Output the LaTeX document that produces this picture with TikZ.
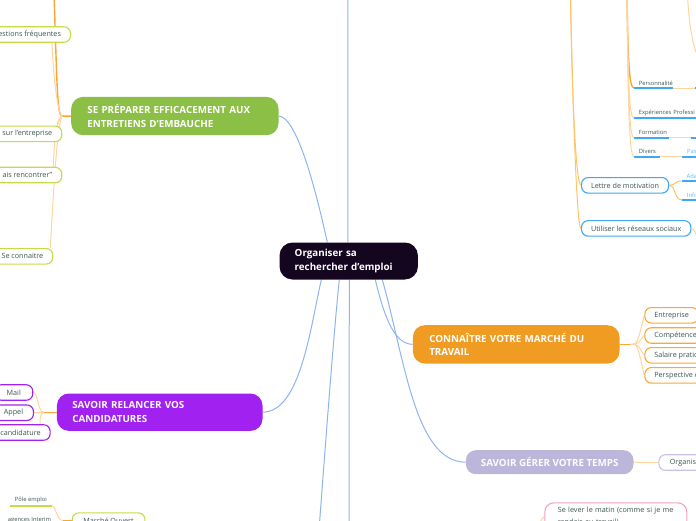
\documentclass[tikz,border=0pt]{standalone}
\usepackage{fontspec}
\setmainfont{Open Sans}
\usetikzlibrary{calc,backgrounds}
\definecolor{cdark}{HTML}{14061F}
\definecolor{cblue}{HTML}{8DB4F2}
\definecolor{cgreen}{HTML}{8CBF45}
\definecolor{cgreenb}{HTML}{C6DA4C}
\definecolor{cpurple}{HTML}{A021F0}
\definecolor{corange}{HTML}{F09C22}
\definecolor{corb}{HTML}{F8A838}
\definecolor{clav}{HTML}{BDB6DB}
\definecolor{clavb}{HTML}{C9C2E3}
\definecolor{cblueb}{HTML}{3EA9EE}
\definecolor{cpink}{HTML}{F4A3BF}
\definecolor{odark}{HTML}{FBA634}
\definecolor{omid}{HTML}{FFC36A}
\definecolor{olight}{HTML}{FFD59C}
\definecolor{ctext}{HTML}{3B5551}
\definecolor{cbtext}{HTML}{5DB6EE}
\tikzset{
  topic/.style={rounded corners=12pt, inner xsep=0pt, inner ysep=0pt,
    font=\bfseries\fontsize{9.8}{13.8}\selectfont, text=white, align=left, anchor=north west},
  kid/.style={draw, line width=1.1pt, rounded corners=6.5pt, fill=white,
    inner xsep=9.5pt, inner ysep=0pt, minimum height=15.5pt,
    font=\fontsize{7.2}{8}\selectfont, text=ctext},
  ulab/.style={inner xsep=4.7pt, inner ysep=2.5pt, anchor=south west, align=left,
    font=\fontsize{5.8}{6.5}\selectfont, text=ctext},
  bluelab/.style={ulab, text=cbtext},
  ubar/.style={line width=2pt, draw=cblueb},
  gbar/.style={line width=2.5pt, draw=cgreenb},
  bl/.style={draw=cblue, line width=1pt},
  odk/.style={draw=odark, line width=1.4pt},
  omd/.style={draw=omid, line width=1pt},
  olt/.style={draw=olight, line width=1pt},
}
\begin{document}
\begin{tikzpicture}[x=1pt,y=-1pt]
\useasboundingbox (0,0) rectangle (696,520);
\clip (0,0) rectangle (696,520);
% ---------- main topics
\node[topic, fill=cdark, rounded corners=13pt, minimum width=138.4pt, minimum height=37pt, text width=108pt] (c) at (279.3,242.3) {Organiser sa\\rechercher d'emploi};
\node[topic, fill=cgreen, minimum width=207.3pt, minimum height=38.3pt, text width=175pt] (gr) at (71,96.7) {SE PRÉPARER EFFICACEMENT AUX\\ENTRETIENS D'EMBAUCHE};
\node[topic, fill=cpurple, minimum width=205.6pt, minimum height=37.4pt, text width=174.8pt] (pu) at (56.7,393.3) {SAVOIR RELANCER VOS\\CANDIDATURES};
\node[topic, fill=corange, minimum width=206.6pt, minimum height=38.3pt, text width=173.8pt] (ot) at (412.7,325) {CONNAÎTRE VOTRE MARCHÉ DU\\TRAVAIL};
\node[topic, fill=clav, rounded corners=10pt, minimum width=167.6pt, minimum height=24pt, align=center, text=white!96!clav] (lv) at (465.7,450) {SAVOIR GÉRER VOTRE TEMPS};
% ---------- left children
\node[kid, draw=cgreenb, anchor=east] (qf) at (71,34.5) {estions fréquentes};
\node[kid, draw=cgreenb, anchor=east] (se) at (62.3,133.9) {sur l'entreprise};
\node[kid, draw=cgreenb, anchor=east] (rc) at (62.3,175) {ais rencontrer"};
\node[kid, draw=cgreenb, anchor=east] (sc) at (53.3,256.3) {Se connaitre};
\node[kid, draw=cpurple, anchor=east, minimum width=38pt] (ml) at (33.3,392.5) {Mail};
\node[kid, draw=cpurple, anchor=east, minimum width=40pt] (ap) at (34,412.7) {Appel};
\node[kid, draw=cpurple, anchor=east] (cd) at (50.7,432.5) {candidature};
\node[ulab, minimum width=38.3pt] (po) at (10,506) {Pôle emploi};
\draw[gbar] (po.south west) -- (po.south east);
\node[ulab, minimum width=48pt] (ag) at (3,526) {agences Interim};
\node[kid, draw=cgreenb, anchor=north west, minimum width=72.6pt] (mo) at (71.7,512.3) {Marché Ouvert};
% ---------- right upper items
\node[ulab, text width=29.3pt] (pe) at (634,88) {Personnalité};
\node[ulab, text width=80pt] (ex) at (634,118.3) {Expériences Professi};
\node[ulab, text width=24.9pt] (fo) at (634,137.7) {Formation};
\node[ulab, text width=15.9pt] (dv) at (634,156.7) {Divers};
\node[bluelab, text width=20pt] (pe2) at (695,88) {};
\node[bluelab, text width=20pt] (fo2) at (690.7,137.7) {};
\node[bluelab, text width=20pt] (dv2) at (682.3,156.7) {Pas};
\node[bluelab, text width=20pt] (ada) at (681.7,181) {Ada};
\node[bluelab, text width=20pt] (inf) at (682,200) {Info};
\foreach \n in {pe,ex,fo,dv,pe2,fo2,dv2,ada,inf} \draw[ubar] (\n.south west) -- (\n.south east);
\node[kid, draw=cblueb, anchor=west] (lm) at (581,185.3) {Lettre de motivation};
\node[kid, draw=cblueb, anchor=west] (us) at (581,228.4) {Utiliser les réseaux sociaux};
% ---------- right lower children
\node[kid, draw=corb, anchor=west] (en) at (644.3,315.3) {Entreprise};
\node[kid, draw=corb, anchor=west] (cp) at (644.3,335.5) {Compétences};
\node[kid, draw=corb, anchor=west] (sp) at (644.3,355.3) {Salaire pratiq};
\node[kid, draw=corb, anchor=west] (pp) at (644.3,375.3) {Perspective d};
\node[kid, draw=clavb, anchor=west, inner xsep=11pt] (og) at (658.3,462.5) {Organis};
\node[kid, draw=cpink, anchor=north west, text width=116pt, align=left, inner xsep=13pt, inner ysep=4pt, rounded corners=9pt, font=\fontsize{7.2}{12.5}\selectfont] (pk) at (544.3,502.3) {Se lever le matin (comme si je me\\rendais au travail)};
% ---------- free ends
\coordinate (ctop) at (348,-5);
\coordinate (cb1) at (319,530);
\coordinate (cb2) at (349,530);
\coordinate (gtop) at (54,-5);
\coordinate (tr1) at (570.5,-5);
\coordinate (tr2) at (627,-5);
\coordinate (tr3) at (687.5,-5);
\coordinate (tr3b) at (700,60);
\coordinate (usb) at (700,242);
\coordinate (pkb) at (537,530);
% ---------- connectors
\begin{scope}[on background layer]
\clip (0,0) rectangle (696,520);
% blue from centre
\draw[bl] ($(c.north west)+(48,0)$) .. controls (318,200) and (298,116.5) .. (gr.east);
\draw[bl] ($(c.north west)+(68.5,0)$) -- (ctop);
\draw[bl] ($(c.south west)+(42,0)$) .. controls (310,330) and (300,412) .. (pu.east);
\draw[bl] ($(c.south west)+(60,0)$) .. controls (334,330) and (325,450) .. (cb1);
\draw[bl] ($(c.south west)+(70,0)$) -- (cb2);
\draw[bl] ($(c.south west)+(96,0)$) .. controls (385,320) and (395,344) .. (ot.west);
\draw[bl] ($(c.south west)+(103,0)$) .. controls (405,360) and (415,462) .. (lv.west);
% green topic
\draw[odk] (gr.west) -- ++(-9,0) coordinate (gb) .. controls (57,116) and (57,80) .. (gtop);
\draw[olt] (gb) .. controls (57,112) and (53,70) .. ($(qf.south east)+(-19,0)$);
\draw[olt] (gb) .. controls (59,118) and (57,122) .. ($(se.north east)+(-5,0)$);
\draw[olt] (gb) .. controls (57,120) and (54,140) .. ($(rc.north east)+(-9,0)$);
\draw[olt] (gb) .. controls (57,125) and (53,200) .. ($(sc.north east)+(-3,0)$);
% purple topic
\draw[odk] (pu.west) -- ++(-13,0) coordinate (pb);
\draw[olt] (pb) .. controls (38,412) and (38,392.5) .. (ml.east);
\draw[olt] (pb) -- (ap.east);
\draw[olt] (pb) .. controls (40,414) and (40,418) .. ($(cd.north east)+(-10.7,0)$);
% marche ouvert
\draw[odk] (mo.west) -- ++(-9,0) coordinate (mob);
\draw[olt] (mob) .. controls (56,519) and (56,506) .. (po.south east);
% right upper
\draw[omd] (tr1) .. controls (572,100) and (576,185.3) .. (lm.west);
\draw[omd] (tr1) .. controls (573,120) and (577,228.4) .. (us.west);
\draw[odk] (tr2) .. controls (628,60) and (629,88) .. (pe.south west);
\draw[olt] (tr2) .. controls (628,80) and (629,118.3) .. (ex.south west);
\draw[olt] (tr2) .. controls (628,90) and (629,137.7) .. (fo.south west);
\draw[olt] (tr2) .. controls (628,100) and (629,156.7) .. (dv.south west);
\draw[olt] (tr3) .. controls (689,25) and (693,50) .. (tr3b);
\draw[olt] (pe.south east) -- (pe2.south west);
\draw[olt] (fo.south east) -- (fo2.south west);
\draw[olt] (dv.south east) -- (dv2.south west);
\draw[omd] (lm.east) .. controls (676,185.3) and (674,181) .. (ada.south west);
\draw[omd] (lm.east) .. controls (676,185.3) and (674,200) .. (inf.south west);
\draw[olt] (us.east) .. controls (695,229) and (696,235) .. (usb);
% right lower
\draw[odk] (ot.east) -- ++(10.5,0) coordinate (ob);
\foreach \n in {en,cp,sp,pp} \draw[olt] (ob) .. controls (638,344) and (637,344) .. (\n.west);
\draw[olt] (lv.east) -- (og.west);
\draw[olt] (pk.west) .. controls (540,520) and (539,525) .. (pkb);
\end{scope}
\end{tikzpicture}
\end{document}
